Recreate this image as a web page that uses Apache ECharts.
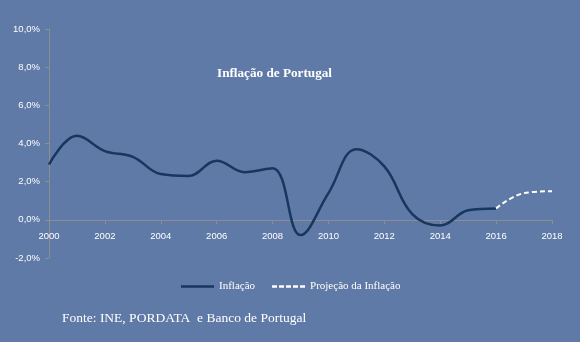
<!DOCTYPE html>
<html><head><meta charset="utf-8">
<script src="https://cdn.jsdelivr.net/npm/echarts@6/dist/echarts.min.js"></script>
<style>html,body{margin:0;padding:0;background:#5f7aa6}#c{width:580px;height:342px}</style>
</head><body><div id="c"></div>
<script>
const years = ['2000','2001','2002','2003','2004','2005','2006','2007','2008','2009','2010','2011','2012','2013','2014','2015','2016','2017','2018'];
const inflacao = [2.9,4.4,3.6,3.3,2.4,2.3,3.1,2.5,2.7,-0.8,1.4,3.7,2.8,0.3,-0.3,0.5,0.6,null,null];
const projecao = [null,null,null,null,null,null,null,null,null,null,null,null,null,null,null,null,0.6,1.4,1.5];
const yTicks = {min:-2, max:10, interval:2};
const titleText = 'Inflação de Portugal';
const sourceText = 'Fonte: INE, PORDATA  e Banco de Portugal';

const chart = echarts.init(document.getElementById('c'));
chart.setOption({
  backgroundColor:'#5f7aa6',
  animation:false,
  title:{text:titleText,left:212,top:62,textStyle:{color:'#fff',fontFamily:'Liberation Serif',fontWeight:'bold',fontSize:13.2}},
  graphic:[{type:'text',left:62,top:311,style:{text:sourceText,fill:'#fff',font:'13.5px "Liberation Serif"'}}],
  legend:{left:176,top:276,itemWidth:33,itemHeight:2.5,itemGap:17,
    textStyle:{color:'#fff',fontFamily:'Liberation Serif',fontSize:11},
    data:[{name:'Inflação',icon:'path://M0,0h33v2.5h-33z',itemStyle:{color:'#17375e'}},
          {name:'Projeção da Inflação',icon:'path://M0,0h5v2.5h-5z M7,0h5v2.5h-5z M14,0h5v2.5h-5z M21,0h5v2.5h-5z M28,0h5v2.5h-5z',itemStyle:{color:'#ffffff'}}]},
  grid:{left:49,right:28,top:29,bottom:84},
  xAxis:{type:'category',data:years,boundaryGap:false,offset:-38,
    axisLine:{onZero:false,lineStyle:{color:'#8e8e8e',width:1}},
    axisTick:{show:true,interval:1,length:4,lineStyle:{color:'#8e8e8e'}},
    axisLabel:{interval:1,color:'#fff',fontFamily:'Liberation Sans',fontSize:9.5,margin:11}},
  yAxis:{type:'value',min:yTicks.min,max:yTicks.max,interval:yTicks.interval,
    splitLine:{show:false},
    axisLine:{show:true,lineStyle:{color:'#8e8e8e',width:1}},
    axisTick:{show:true,length:4,lineStyle:{color:'#8e8e8e'}},
    axisLabel:{color:'#fff',fontFamily:'Liberation Sans',fontSize:9.5,margin:9,
      formatter:v=>v.toFixed(1).replace('.',',')+'%'}},
  series:[
    {name:'Inflação',type:'line',data:inflacao,smooth:0.4,symbol:'none',
      lineStyle:{color:'#17375e',width:2.5},itemStyle:{color:'#17375e'}},
    {name:'Projeção da Inflação',type:'line',data:projecao,smooth:0.4,symbol:'none',
      lineStyle:{color:'#ffffff',width:2,type:[5,3]},itemStyle:{color:'#ffffff'}}
  ]
});
</script></body></html>
